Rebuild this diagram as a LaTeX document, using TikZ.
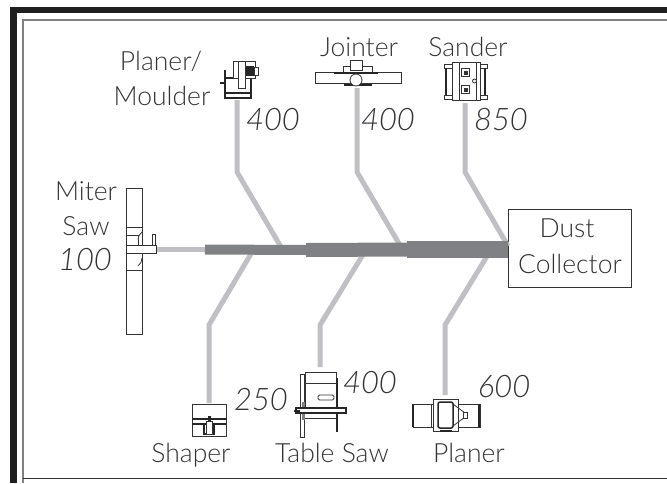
\documentclass[tikz,border=0pt]{standalone}
\usepackage{fontspec}
\setmainfont{Lato}[UprightFont=* Light,ItalicFont=* Light Italic]
\usepackage{xcolor}
\usetikzlibrary{positioning}
\definecolor{ductgray}{HTML}{C0C0C4}
\definecolor{maingray}{HTML}{808184}
\definecolor{inkgray}{HTML}{333335}
\begin{document}
\begin{tikzpicture}[
      x=1pt, y=-1pt,
      duct/.style={
        draw=ductgray,
        line width=5pt
      },
      mainduct/.style={
        draw=maingray
      },
      mach/.style={
        draw=inkgray,
        line width=0.8pt,
        fill=white
      },
      heavy/.style={
        draw=black!85,
        line width=1.5pt
      },
      label/.style={
        anchor=base,
        inner sep=0pt,
        text=inkgray,
        font=\fontsize{26.5}{26.5}\selectfont
      },
      cfm/.style={
        label,
        font=\fontsize{31}{31}\selectfont\itshape
      },
      collectorbox/.style={
        draw=inkgray,
        line width=0.9pt,
        fill=white,
        minimum width=123pt,
        minimum height=78pt,
        inner sep=0pt,
        align=center
      }
    ]
    \useasboundingbox (0,0) rectangle (667,483);

    % frame
    \fill[black!88] (10,7) rectangle (667,13);
    \fill[black!88] (10,7) rectangle (17,483);
    \draw[gray, line width=1.6pt] (667,20) -| (23,483);
    \draw[inkgray, line width=0.8pt] (23,478) -- (667,478);

    \node[collectorbox] (collector) at (569.5,248) {};
    \node[label] (dust) at (567,237) {Dust};
    \node[label] (collectortext) at (570,273) {Collector};

    \coordinate (m0) at (205,249.5);
    \coordinate (m1) at (306,250);
    \coordinate (m2) at (407,249.5);
    \coordinate (m3) at (508,249.5);

    % branches
    \coordinate (moulder) at (237,100);
    \coordinate (moulderbend) at (237,172);
    \coordinate (moulderend) at (281,247);
    \coordinate (jointer) at (357,88);
    \coordinate (jointerbend) at (357,172);
    \coordinate (jointerend) at (401,247);
    \coordinate (sander) at (465,103);
    \coordinate (sanderbend) at (465,172);
    \coordinate (sanderend) at (508,246);
    \coordinate (miter) at (157,249.5);
    \coordinate (shaper) at (209,403);
    \coordinate (shaperbend) at (209,325);
    \coordinate (shaperend) at (252,252);
    \coordinate (tablesaw) at (320,367);
    \coordinate (tablesawbend) at (320,325);
    \coordinate (tablesawend) at (364,253);
    \coordinate (planer) at (445,395);
    \coordinate (planerbend) at (445,325);
    \coordinate (planerend) at (489,253);

    \draw[duct] (moulder) -- (moulderbend) -- (moulderend);
    \draw[duct] (jointer) -- (jointerbend) -- (jointerend);
    \draw[duct] (sander) -- (sanderbend) -- (sanderend);
    \draw[duct] (miter) -- (m0);
    \draw[duct] (shaper) -- (shaperbend) -- (shaperend);
    \draw[duct] (tablesaw) -- (tablesawbend) -- (tablesawend);
    \draw[duct] (planer) -- (planerbend) -- (planerend);

    \draw[mainduct, line width=10pt] (m0) -- (m1);
    \draw[mainduct, line width=14pt] (m1) -- (m2);
    \draw[mainduct, line width=17pt] (m2) -- (m3);

    % miter saw
    \draw[mach] (126,188) rectangle (142,334);
    \draw[mach] (126,227) -- (142,227) (126,270) -- (142,270);
    \draw[mach] (126,235) rectangle (138,245);
    \draw[mach] (152,234) rectangle (155,245);
    \draw[mach] (126,245) rectangle (156,253);
    \draw[mach] (142,232) to[bend right=25] (138,240);
    \draw[mach] (142,258) to[bend left=25] (138,266);

    % planer/moulder
    \draw[heavy] (225,70) -- (225,98) -- (251,98) -- (251,78);
    \draw[heavy] (225,93) -- (251,93);
    \draw[heavy] (225,78) -- (233,78);
    \draw[heavy] (220,83) -- (225,83);
    \draw[mach] (233,61) rectangle (255,78);
    \draw[mach] (238,61) rectangle (245,88);
    \fill[black!85] (246,66) rectangle (254,76);
    \draw[mach] (254,67) rectangle (258,75);

    % jointer
    \draw[mach] (343,66) rectangle (372,73);
    \draw[mach] (350,60) rectangle (362,70);
    \draw[mach] (315,72) rectangle (401,83);
    \draw[heavy] (334,73) -- (378,73);
    \draw[heavy] (344,85) -- (372,85);
    \draw[mach] (356,80) circle (6);

    % sander
    \draw[mach] (444,64) rectangle (487,68);
    \draw[mach] (444,95) rectangle (487,99);
    \draw[heavy] (446,68) -- (446,95) (485,68) -- (485,95);
    \draw[mach] (452,62) rectangle (480,100);
    \draw[mach] (459,62) -- (459,100) (476,62) -- (476,100);
    \draw[mach] (461.5,68.5) rectangle (469.5,76.5);
    \draw[mach] (461.5,85.5) rectangle (469.5,93.5);
    \fill[inkgray] (463.5,70.5) rectangle (467.5,74.5);
    \fill[inkgray] (463.5,87.5) rectangle (467.5,91.5);
    \draw[mach] (474.5,81) circle (2);

    % shaper
    \draw[mach] (192,404) rectangle (226,436);
    \draw[heavy] (192,419) -- (226,419) (192,424) -- (226,424);
    \draw[heavy, fill=white] (204,434) -- (204,424) -- (214,424) -- (214,434) -- cycle;
    \draw[mach] (206,421) rectangle (212,434);
    \fill[black!85] (207.5,416) rectangle (210.5,421);

    % table saw
    \draw[mach] (305,372) rectangle (336,408);
    \draw[mach] (305,383) -- (336,383);
    \draw[mach, rounded corners=1.5pt] (318,395) rectangle (334,400);
    \draw[mach] (300,374) rectangle (304,437);
    \fill[maingray] (302,402) rectangle (305,420);
    \draw[heavy] (337,378) -- (337,432);
    \draw[heavy, fill=white] (296,408) rectangle (346,413);
    \draw[mach] (305,418) -- (336,418);
    \draw[heavy] (294,411) -- (300,411);

    % planer
    \draw[mach] (413,404) rectangle (480,427);
    \draw[heavy] (413,404) -- (413,427) (479,404) -- (479,427);
    \draw[mach] (431,404) -- (431,427);
    \draw[mach] (433,399) rectangle (458,431);
    \draw[mach] (453,404) -- (465,413) (453,426) -- (465,417);
    \draw[mach] (463,412) rectangle (467,418);
    \draw[heavy, rounded corners=2pt] (438,402) rectangle (453,428);
    \draw[heavy] (440,431) -- (452,431);

    % labels
    \node[label] (moulderlabela) at (161,70) {Planer/};
    \node[label] (moulderlabelb) at (162,105) {Moulder};
    \node[label] (jointerlabel) at (359,56) {Jointer};
    \node[label] (sanderlabel) at (468,56) {Sander};
    \node[label] (miterlabela) at (86,200) {Miter};
    \node[label] (miterlabelb) at (86,235) {Saw};
    \node[label] (shaperlabel) at (191,462) {Shaper};
    \node[label] (tablesawlabel) at (332,462) {Table Saw};
    \node[label] (planerlabel) at (469,462) {Planer};

    \node[cfm] (moulderflow) at (273,130) {400};
    \node[cfm] (jointerflow) at (388,130) {400};
    \node[cfm] (sanderflow) at (501,130) {850};
    \node[cfm] (miterflow) at (85,270) {100};
    \node[cfm] (shaperflow) at (261,410) {250};
    \node[cfm] (tablesawflow) at (370,393) {400};
    \node[cfm] (planerflow) at (504,397) {600};

    \end{tikzpicture}
\end{document}
